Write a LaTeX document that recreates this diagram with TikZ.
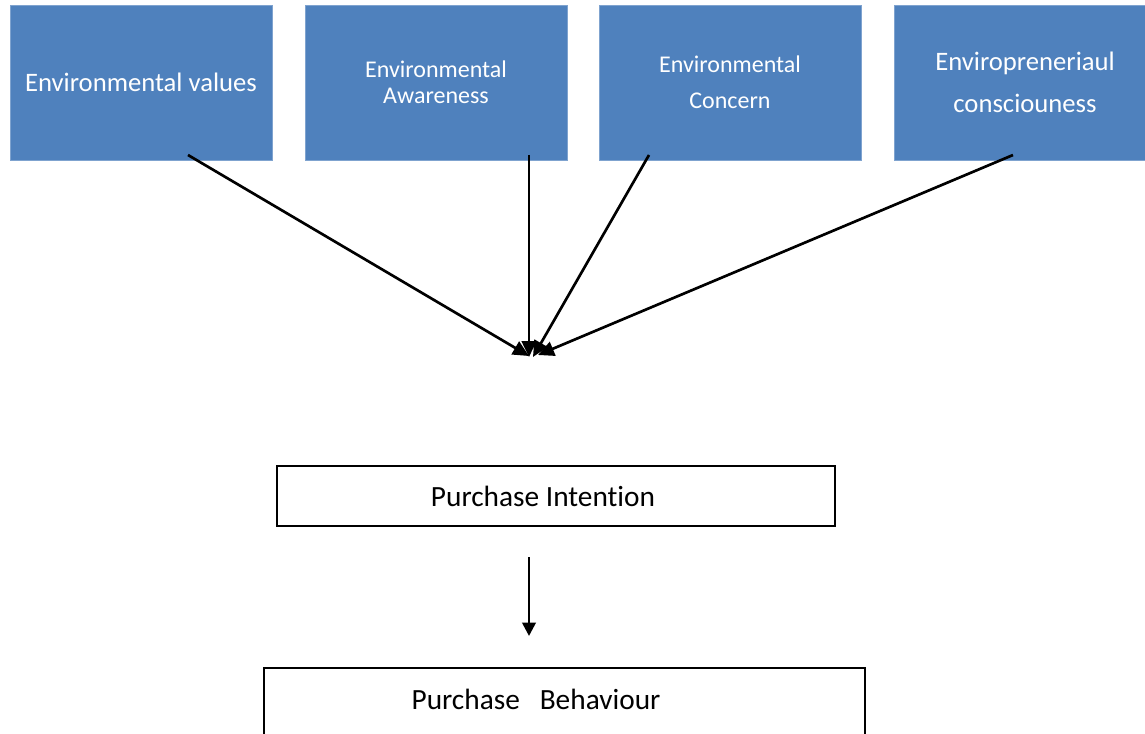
\documentclass[tikz,border=0pt]{standalone}
\usepackage{fontspec}
\setmainfont[Ligatures=NoCommon]{Carlito}
\usepackage{tikz}
\usetikzlibrary{positioning, arrows.meta}
\definecolor{boxblue}{HTML}{4F81BD}
\definecolor{boxedge}{HTML}{7FA3CF}

\begin{document}
\begin{tikzpicture}[x=0.75pt, y=-0.75pt,
    topbox/.style={fill=boxblue, draw=boxedge, line width=0.5pt, text=white,
        minimum width=196.5pt, minimum height=116.25pt, align=center, inner sep=0pt},
    whitebox/.style={draw=black, line width=1.3pt, fill=white, inner sep=0pt},
    boxtext/.style={inner sep=0pt, font=\fontsize{22}{26}\selectfont},
    link/.style={line width=2pt, -{Triangle[length=12pt, width=11pt]}},
    downlink/.style={line width=2pt, -{Triangle[length=10pt, width=10pt]}}]

    \useasboundingbox (0,0) rectangle (1145,734);

    % factor boxes
    \node[topbox, font=\fontsize{20}{24}\selectfont] (ev) at (141,82.5)
        {Environmental values};
    \node[topbox, font=\fontsize{18}{19.5}\selectfont] (ea) at (436,82.5)
        {Environmental\\Awareness};
    \node[topbox, font=\fontsize{18}{27}\selectfont] (ec) at (730,82.5)
        {Environmental\\Concern};
    \node[topbox, font=\fontsize{20}{31}\selectfont] (ecs) at (1025,82.5)
        {Enviropreneriaul\\consciouness};

    % outcome boxes
    \node[whitebox, minimum width=418.5pt, minimum height=45pt] (pi) at (556,496) {};
    \node[boxtext] (pi-text) at (543,496) {Purchase Intention};
    \node[whitebox, minimum width=450.75pt, minimum height=51pt] (pb) at (564.5,702) {};
    \node[boxtext] (pb-text) at (536,699) {Purchase\ \ \ Behaviour};

    % arrow ends
    \coordinate (ev-out) at (188,155);
    \coordinate (ea-out) at (529,155);
    \coordinate (ec-out) at (649,155);
    \coordinate (ecs-out) at (1013,155);
    \coordinate (hub1) at (529,356);
    \coordinate (hub2) at (529,357);
    \coordinate (hub3) at (533,357);
    \coordinate (hub4) at (538,355);
    \coordinate (pi-out) at (529,557);
    \coordinate (pb-in) at (529,636);

    \draw[link] (ev-out) -- (hub1);
    \draw[link] (ea-out) -- (hub2);
    \draw[link] (ec-out) -- (hub3);
    \draw[link] (ecs-out) -- (hub4);
    \draw[downlink] (pi-out) -- (pb-in);
\end{tikzpicture}
\end{document}
